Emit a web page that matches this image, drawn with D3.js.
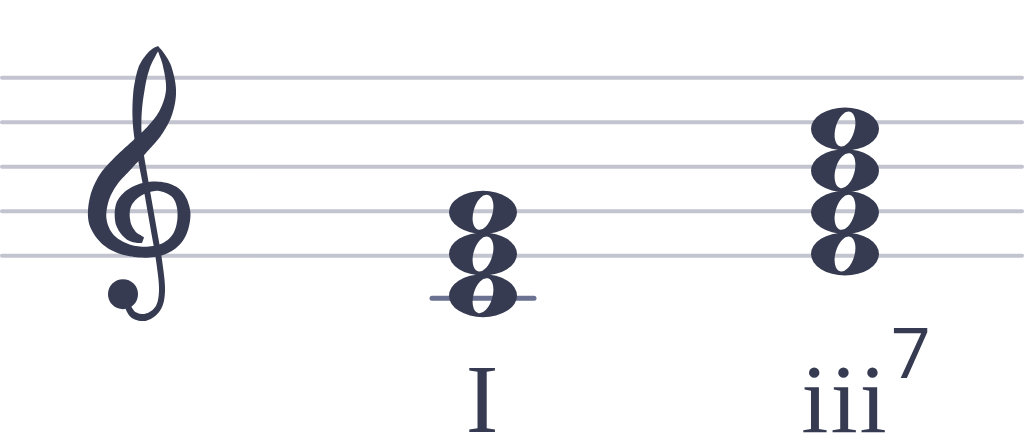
<!DOCTYPE html>
<html>
<head>
<meta charset="utf-8">
<script src="https://cdn.jsdelivr.net/npm/d3@7"></script>
<style>
  html, body { margin: 0; padding: 0; background: #fff; }
  svg { display: block; }
</style>
</head>
<body>
<div id="chart"></div>
<script>
"use strict";

//
// Data
//
var staffLines = ["E4", "G4", "B4", "D5", "F5"];
var chords = ["I", "iii7"];
var numerals = ["I", "iii"];
var figures = ["", "7"];
var chordNotes = [["C4", "E4", "G4"], ["E4", "G4", "B4", "D5"]];

//
// Setup Variables
//
var width = 1024;
var height = 445;
var ink = "#363b51";
var lineColor = "#c2c4cf";
var ledgerColor = "#6b7291";

// diatonic step number of a pitch name like "E4"
function step(p) {
	return "CDEFGAB".indexOf(p[0]) + 7 * (+p.slice(1));
}

var x = d3.scalePoint().domain(chords).range([483, 845]);
var yLine = d3.scaleLinear().domain([step("E4"), step("F5")]).range([255.7, 77.7]);
var yNote = d3.scaleLinear().domain([step("E4"), step("D5")]).range([254, 129]);

var RX = 34, RY = 21.5;        // notehead
var HS = 9.5, HL = 18, ROT = 16; // hole of the notehead

function noteheadPath(cx, cy) {
	var a = ROT * Math.PI / 180;
	var tx = cx + HL * Math.sin(a), ty = cy - HL * Math.cos(a);
	var bx = cx - HL * Math.sin(a), by = cy + HL * Math.cos(a);
	return "M" + (cx - RX) + "," + cy +
		"A" + RX + "," + RY + " 0 1 0 " + (cx + RX) + "," + cy +
		"A" + RX + "," + RY + " 0 1 0 " + (cx - RX) + "," + cy + "Z" +
		"M" + tx + "," + ty +
		"A" + HS + "," + HL + " " + ROT + " 1 0 " + bx + "," + by +
		"A" + HS + "," + HL + " " + ROT + " 1 0 " + tx + "," + ty + "Z";
}

//
// Treble clef outline, as centre lines with widths, origin on the G line
//
var clefBody = [
	[-7, 29, 6], [-19, 24, 12], [-27, 11, 15], [-26, -7, 15], [-13, -20, 12],
	[8, -25, 9], [27, -17, 11], [34, 3, 13], [28, 26, 12], [10, 39, 11],
	[-17, 40, 11], [-40, 30, 14], [-52, 11, 18], [-51, -11, 19], [-42, -31, 20],
	[-27, -48, 20], [-10, -65, 18], [5, -81, 16], [16, -99, 13], [21, -121, 10],
	[17, -145, 8], [9, -162, 3]
];
var clefStem = [
	[9, -164, 3], [2, -157, 8], [-6, -143, 11], [-11, -121, 11], [-13, -94, 9],
	[-11, -66, 7], [-4, -26, 6], [3, 14, 6], [9, 49, 6], [12, 79, 6],
	[8, 97, 6], [-4, 106, 7], [-16, 104, 7], [-22, 96, 6]
];
var clefBall = [-27, 83, 15];

// sample a catmull-rom curve through the points and outline it by its widths
function strokeOutline(pts, n) {
	var s = [];
	for (var i = 0; i < pts.length - 1; i++) {
		var p0 = pts[i - 1] || pts[i], p1 = pts[i], p2 = pts[i + 1], p3 = pts[i + 2] || pts[i + 1];
		for (var k = 0; k < n; k++) {
			var t = k / n, t2 = t * t, t3 = t2 * t;
			var c = [0, 1].map(function(j) {
				return 0.5 * ((2 * p1[j]) + (-p0[j] + p2[j]) * t +
					(2 * p0[j] - 5 * p1[j] + 4 * p2[j] - p3[j]) * t2 +
					(-p0[j] + 3 * p1[j] - 3 * p2[j] + p3[j]) * t3);
			});
			c.push(p1[2] + (p2[2] - p1[2]) * t);
			s.push(c);
		}
	}
	s.push(pts[pts.length - 1]);
	var left = [], right = [];
	s.forEach(function(p, i) {
		var a = s[Math.max(0, i - 1)], b = s[Math.min(s.length - 1, i + 1)];
		var dx = b[0] - a[0], dy = b[1] - a[1], len = Math.hypot(dx, dy) || 1;
		var nx = -dy / len, ny = dx / len, h = p[2] / 2;
		left.push([p[0] + nx * h, p[1] + ny * h]);
		right.push([p[0] - nx * h, p[1] - ny * h]);
	});
	return d3.line().curve(d3.curveLinearClosed)(left.concat(right.reverse()));
}

//
// Draw Canvas
//
var svg = d3.select("#chart")
	.append("svg")
		.attr("width", width)
		.attr("height", height);

//
// Draw Staff
//
svg.append("g")
		.attr("id", "staff")
	.selectAll("line")
	.data(staffLines)
	.enter().append("line")
		.attr("x1", 2)
		.attr("x2", width - 2)
		.attr("y1", function(d) { return yLine(step(d)); })
		.attr("y2", function(d) { return yLine(step(d)); })
		.attr("stroke", lineColor)
		.attr("stroke-width", 4)
		.attr("stroke-linecap", "round");

//
// Draw Clef
//
var clef = svg.append("g")
	.attr("id", "clef")
	.attr("fill", ink)
	.attr("transform", "translate(150," + yLine(step("G4")) + ")");

clef.append("path").attr("d", strokeOutline(clefBody, 12));
clef.append("path").attr("d", strokeOutline(clefStem, 12));
clef.append("circle")
	.attr("cx", clefBall[0])
	.attr("cy", clefBall[1])
	.attr("r", clefBall[2]);

//
// Draw Chords
//
var chord = svg.selectAll(".chord")
	.data(chords)
	.enter().append("g")
		.attr("class", "chord");

// ledger lines below the staff
chord.each(function(c, i) {
	var low = d3.min(chordNotes[i], step);
	var ledgers = d3.range(step("E4") - 2, low - 1, -2);
	d3.select(this).selectAll(".ledger")
		.data(ledgers)
		.enter().append("line")
			.attr("class", "ledger")
			.attr("x1", x(c) - 51)
			.attr("x2", x(c) + 51)
			.attr("y1", function(s) { return yLine(s) - 2; })
			.attr("y2", function(s) { return yLine(s) - 2; })
			.attr("stroke", ledgerColor)
			.attr("stroke-width", 5)
			.attr("stroke-linecap", "round");
});

chord.each(function(c, i) {
	d3.select(this).selectAll(".note")
		.data(chordNotes[i])
		.enter().append("path")
			.attr("class", "note")
			.attr("fill", ink)
			.attr("fill-rule", "evenodd")
			.attr("d", function(n) { return noteheadPath(x(c), yNote(step(n))); });
});

//
// Draw Labels
//
chord.each(function(c, i) {
	var g = d3.select(this);
	var t = g.append("text")
		.attr("x", x(c))
		.attr("y", 432)
		.attr("text-anchor", "middle")
		.attr("font-family", "'Liberation Serif', serif")
		.attr("font-size", 98)
		.attr("letter-spacing", 2)
		.attr("fill", ink)
		.text(numerals[i]);
	if (figures[i]) {
		var w = t.node().getComputedTextLength();
		g.append("text")
			.attr("x", x(c) + w / 2 + 2)
			.attr("y", 378)
			.attr("font-family", "'Open Sans', sans-serif")
			.attr("font-size", 70)
			.attr("fill", ink)
			.text(figures[i]);
	}
});
</script>
</body>
</html>
